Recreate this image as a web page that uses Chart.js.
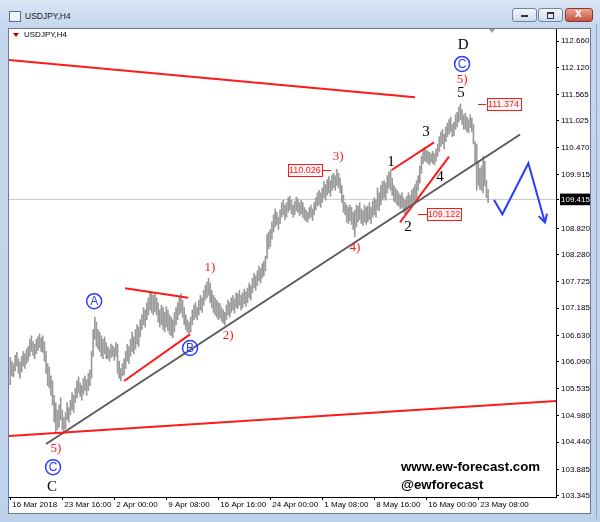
<!DOCTYPE html>
<html>
<head>
<meta charset="utf-8">
<script src="https://cdn.jsdelivr.net/npm/chart.js@4.4.1/dist/chart.umd.min.js"></script>
<style>
  body { margin:0; width:600px; height:522px; overflow:hidden; position:relative;
    background: linear-gradient(#d9e5f4, #c5d7ee 28px, #bfd2eb);
    font-family: 'Liberation Sans', Arial, sans-serif; }
  #title { position:absolute; left:25px; top:11px; font-size:8.5px; color:#1a1a1a; }
  #icon { position:absolute; left:9px; top:11px; width:10px; height:9px; border:1px solid #5a6f8f; background:#eef3fa; }
  .btn { position:absolute; top:8px; height:12px; border:1px solid #6f83a6; border-radius:3px;
    background: linear-gradient(#f3f7fc, #cfdcee); }
  #bmin { left:512px; width:23px; }
  #bmax { left:538px; width:23px; }
  #bclose { left:565px; width:26px; border-color:#8a3a2c; background: linear-gradient(#e9a597, #c4533e); }
  #bmin::after { content:''; position:absolute; left:8px; top:6px; width:7px; height:2px; background:#333; }
  #bmax::after { content:''; position:absolute; left:8px; top:3px; width:5px; height:4px; border:1px solid #333; border-top-width:2px; }
  #bclose::after { content:'x'; position:absolute; left:9px; top:-3px; color:#fff; font:bold 12px 'Liberation Sans'; }
  #frame { position:absolute; left:8px; top:28px; width:581px; height:484px; border:1px solid #6c7a90; background:#fff; }
  #edge { position:absolute; left:596px; top:24px; width:1px; height:495px; background:#8ea6c8; }
  #shift { position:absolute; left:489px; top:29px; width:0; height:0;
    border-left:3px solid transparent; border-right:3px solid transparent; border-top:4px solid #a0a0a0; }
</style>
</head>
<body>
<div id="icon"></div>
<div id="title">USDJPY,H4</div>
<div class="btn" id="bmin"></div>
<div class="btn" id="bmax"></div>
<div class="btn" id="bclose"></div>
<div id="edge"></div>
<div id="frame"><canvas id="chart" width="581" height="484"></canvas></div>
<div id="shift"></div>
<script>
// H4 bars, index 0 = 16 Mar 2018 08:00
const highs = [
  106.18, 106.10, 106.05, 106.22, 106.28, 106.15, 106.08, 106.20, 106.30, 106.25,
  106.35, 106.40, 106.55, 106.62, 106.50, 106.45, 106.55, 106.60, 106.66, 106.58,
  106.62, 106.50, 106.30, 106.05, 105.98, 105.80, 105.70, 105.40, 105.25, 105.10,
  105.20, 105.35, 105.10, 104.95, 105.05, 105.25, 105.15, 105.30, 105.45, 105.40,
  105.55, 105.70, 105.78, 105.65, 105.60, 105.75, 105.80, 105.72, 105.85, 105.92,
  106.30, 106.75, 107.00, 106.90, 106.75, 106.70, 106.62, 106.55, 106.60, 106.48,
  106.40, 106.35, 106.45, 106.42, 106.38, 106.48, 106.45, 106.10, 105.95, 106.05,
  106.15, 106.30, 106.45, 106.40, 106.55, 106.70, 106.60, 106.75, 106.85, 106.80,
  106.95, 107.05, 107.20, 107.15, 107.30, 107.40, 107.52, 107.50, 107.45, 107.48,
  107.40, 107.30, 107.15, 107.25, 107.20, 107.10, 107.22, 107.15, 107.05, 107.00,
  106.95, 107.10, 107.20, 107.30, 107.42, 107.48, 107.35, 107.20, 107.05, 106.95,
  106.90, 107.00, 107.15, 107.25, 107.30, 107.20, 107.35, 107.45, 107.40, 107.55,
  107.65, 107.72, 107.80, 107.70, 107.55, 107.45, 107.40, 107.35, 107.30, 107.28,
  107.20, 107.15, 107.10, 107.25, 107.35, 107.30, 107.40, 107.45, 107.38, 107.50,
  107.48, 107.55, 107.45, 107.50, 107.58, 107.52, 107.60, 107.70, 107.65, 107.80,
  107.90, 107.85, 107.95, 108.05, 108.00, 108.10, 108.15, 108.25, 108.70, 108.75,
  108.80, 108.95, 109.10, 109.22, 109.15, 109.05, 109.20, 109.35, 109.40, 109.30,
  109.35, 109.45, 109.48, 109.40, 109.30, 109.38, 109.46, 109.42, 109.35, 109.40,
  109.35, 109.25, 109.20, 109.15, 109.25, 109.30, 109.22, 109.35, 109.45, 109.55,
  109.60, 109.55, 109.65, 109.78, 109.72, 109.82, 109.88, 109.80, 109.92, 109.95,
  109.90, 110.03, 109.95, 109.85, 109.70, 109.50, 109.35, 109.30, 109.25, 109.30,
  109.25, 109.15, 109.20, 109.30, 109.28, 109.35, 109.22, 109.18, 109.30, 109.25,
  109.28, 109.35, 109.25, 109.38, 109.45, 109.40, 109.65, 109.55, 109.70, 109.78,
  109.80, 109.75, 109.90, 109.98, 110.02, 109.85, 109.70, 109.65, 109.60, 109.55,
  109.50, 109.55, 109.45, 109.40, 109.48, 109.55, 109.50, 109.60, 109.65, 109.72,
  109.80, 109.90, 110.10, 110.30, 110.45, 110.48, 110.42, 110.40, 110.38, 110.35,
  110.40, 110.35, 110.45, 110.55, 110.70, 110.80, 110.85, 110.75, 110.90, 110.98,
  111.05, 111.10, 110.95, 111.00, 111.15, 111.20, 111.30, 111.37, 111.25, 111.15,
  111.18, 111.10, 111.05, 111.15, 111.08, 110.95, 110.60, 110.55, 110.20, 110.05,
  110.10, 110.30, 110.20, 109.80, 109.62
];
const lows = [
  105.62, 105.80, 105.78, 105.90, 106.00, 105.85, 105.75, 105.88, 106.00, 105.95,
  106.05, 106.10, 106.20, 106.30, 106.22, 106.15, 106.25, 106.32, 106.38, 106.30,
  106.28, 106.10, 105.85, 105.60, 105.55, 105.40, 105.20, 104.85, 104.63, 104.70,
  104.75, 104.90, 104.70, 104.62, 104.72, 104.90, 104.85, 105.00, 105.10, 105.05,
  105.25, 105.35, 105.45, 105.38, 105.30, 105.42, 105.50, 105.40, 105.50, 105.60,
  105.75, 106.20, 106.55, 106.40, 106.35, 106.30, 106.20, 106.15, 106.25, 106.15,
  106.15, 106.10, 106.18, 106.20, 106.12, 106.20, 105.85, 105.75, 105.70, 105.80,
  105.82, 105.95, 106.10, 106.05, 106.20, 106.30, 106.25, 106.35, 106.45, 106.40,
  106.60, 106.75, 106.85, 106.80, 106.95, 107.05, 107.15, 107.10, 107.05, 107.12,
  107.05, 106.90, 106.80, 106.85, 106.75, 106.70, 106.80, 106.72, 106.65, 106.62,
  106.58, 106.70, 106.85, 106.95, 107.05, 107.10, 107.00, 106.85, 106.75, 106.70,
  106.66, 106.70, 106.85, 106.95, 107.00, 106.95, 107.05, 107.15, 107.10, 107.25,
  107.35, 107.40, 107.45, 107.30, 107.20, 107.10, 107.05, 107.00, 106.95, 106.98,
  106.92, 106.88, 106.84, 106.95, 107.05, 107.00, 107.10, 107.15, 107.08, 107.20,
  107.18, 107.25, 107.15, 107.20, 107.28, 107.22, 107.30, 107.40, 107.35, 107.50,
  107.60, 107.55, 107.65, 107.75, 107.70, 107.80, 107.85, 107.95, 108.20, 108.40,
  108.45, 108.60, 108.75, 108.85, 108.90, 108.80, 108.92, 109.05, 109.10, 109.00,
  109.05, 109.15, 109.20, 109.12, 109.05, 109.10, 109.18, 109.15, 109.08, 109.12,
  109.05, 109.00, 108.97, 108.95, 109.02, 109.05, 108.98, 109.10, 109.20, 109.28,
  109.30, 109.25, 109.35, 109.45, 109.40, 109.50, 109.55, 109.48, 109.60, 109.65,
  109.60, 109.70, 109.65, 109.55, 109.35, 109.15, 109.10, 108.95, 108.92, 108.98,
  108.90, 108.80, 108.65, 108.85, 108.95, 109.00, 108.92, 108.88, 108.95, 108.90,
  108.95, 109.00, 108.92, 109.05, 109.10, 109.05, 109.20, 109.18, 109.30, 109.40,
  109.45, 109.40, 109.55, 109.65, 109.60, 109.50, 109.38, 109.35, 109.30, 109.28,
  109.22, 109.25, 109.15, 109.12, 109.18, 109.25, 109.22, 109.30, 109.35, 109.40,
  109.45, 109.60, 109.75, 109.95, 110.15, 110.20, 110.18, 110.15, 110.12, 110.18,
  110.15, 110.12, 110.20, 110.30, 110.40, 110.50, 110.55, 110.45, 110.60, 110.70,
  110.75, 110.80, 110.70, 110.72, 110.85, 110.90, 111.00, 111.05, 110.95, 110.85,
  110.85, 110.80, 110.78, 110.88, 110.80, 110.55, 110.15, 109.60, 109.70, 109.62,
  109.60, 109.55, 109.70, 109.45, 109.35
];
const lastPrice = 109.415;

const xTickBars = [0, 32, 64, 96, 128, 160, 192, 224, 256, 288];
const xTickLabels = ['16 Mar 2018', '23 Mar 16:00', '2 Apr 00:00', '9 Apr 08:00', '16 Apr 16:00',
  '24 Apr 00:00', '1 May 08:00', '8 May 16:00', '16 May 00:00', '23 May 08:00'];
const yTickValues = [112.660, 112.120, 111.565, 111.025, 110.470, 109.915, 109.415, 108.820, 108.280,
  107.725, 107.185, 106.630, 106.090, 105.535, 104.980, 104.440, 103.885, 103.345];

// drawn lines, [bar index, price]
const channelTop = [[-0.8, 112.27], [249, 111.51]];
const channelBottom = [[-0.8, 104.57], [335.8, 105.285]];
const trendLine = [[22.0, 104.404], [313.7, 110.745]];
const lineAB = [[70.0, 105.695], [110.6, 106.65]];
const lineTopA = [[70.6, 107.594], [109.5, 107.401]];
const line13 = [[234.7, 110.017], [260.7, 110.585]];
const line24 = [[239.8, 108.946], [270.0, 110.29]];
const forecast = [[297.7, 109.403], [302.8, 109.11], [318.8, 110.155], [329.0, 108.94]];

// price tags: value, tag centre bar, leader line from/to bar
const tagValues = [110.026, 109.122, 111.374];
const tagCentres = [181.3, 266.9, 303.5];
const tagLines = [[191.8, 197.4], [250.9, 256.4], [287.8, 292.7]];

// wave labels
const blackLabels = [['D', 278.6, 112.58], ['5', 277.4, 111.59], ['1', 234.3, 110.18], ['2', 244.7, 108.85],
  ['3', 255.8, 110.80], ['4', 264.4, 109.87], ['C', 25.7, 103.52]];
const redLabels = [['5)', 278.0, 111.86], ['3)', 201.7, 110.284], ['1)', 122.9, 108.01], ['2)', 134.0, 106.62],
  ['4)', 212.1, 108.42], ['5)', 28.1, 104.30]];
const circleLabels = [['C', 278.0, 112.19], ['A', 51.6, 107.33], ['B', 110.6, 106.37], ['C', 26.3, 103.93]];

const RED = '#ff1a1a';
const BLUE = '#2a3cff';

const bars = highs.map((h, i) => ({ x: i, y: [lows[i], h] }));
const pts = arr => arr.map(p => ({ x: p[0], y: p[1] }));

function lineSet(arr, color, width, order) {
    return { type: 'line', data: pts(arr), borderColor: color, borderWidth: width,
        pointRadius: 0, tension: 0, fill: false, order: order };
}

// labels, tags and arrow head
const overlay = {
    id: 'overlay',
    afterDatasetsDraw(chart) {
        const { ctx, scales: { x, y } } = chart;
        ctx.save();

        // chart caption
        ctx.fillStyle = '#b00000';
        ctx.beginPath();
        ctx.moveTo(4, 4); ctx.lineTo(10, 4); ctx.lineTo(7, 8); ctx.closePath(); ctx.fill();
        ctx.fillStyle = '#000';
        ctx.font = '8px "Liberation Sans"';
        ctx.textBaseline = 'middle';
        ctx.fillText('USDJPY,H4', 15, 6);

        // price tags
        tagValues.forEach((v, k) => {
            const py = Math.round(y.getPixelForValue(v)) + 0.5;
            ctx.strokeStyle = RED;
            ctx.lineWidth = 1;
            ctx.beginPath();
            ctx.moveTo(x.getPixelForValue(tagLines[k][0]), py);
            ctx.lineTo(x.getPixelForValue(tagLines[k][1]), py);
            ctx.stroke();
            const cx = x.getPixelForValue(tagCentres[k]);
            ctx.fillStyle = '#fff4f4';
            ctx.fillRect(Math.round(cx - 17) + 0.5, py - 6, 34, 12);
            ctx.strokeRect(Math.round(cx - 17) + 0.5, py - 6, 34, 12);
            ctx.fillStyle = RED;
            ctx.font = '9px "Liberation Sans"';
            ctx.textAlign = 'center';
            ctx.fillText(v.toFixed(3), cx, py + 0.5);
        });

        // forecast arrow head
        const n = forecast.length;
        const ex = x.getPixelForValue(forecast[n - 1][0]), ey = y.getPixelForValue(forecast[n - 1][1]);
        const bx = x.getPixelForValue(forecast[n - 2][0]), by = y.getPixelForValue(forecast[n - 2][1]);
        const ang = Math.atan2(ey - by, ex - bx);
        ctx.strokeStyle = BLUE;
        ctx.lineWidth = 2;
        ctx.beginPath();
        ctx.moveTo(ex - 9 * Math.cos(ang - 0.5), ey - 9 * Math.sin(ang - 0.5));
        ctx.lineTo(ex, ey);
        ctx.lineTo(ex - 9 * Math.cos(ang + 0.5), ey - 9 * Math.sin(ang + 0.5));
        ctx.stroke();

        // wave labels
        ctx.textAlign = 'center';
        ctx.textBaseline = 'middle';
        ctx.fillStyle = '#000';
        ctx.font = '15px "Liberation Serif"';
        blackLabels.forEach(l => ctx.fillText(l[0], x.getPixelForValue(l[1]), y.getPixelForValue(l[2])));
        ctx.fillStyle = RED;
        ctx.font = '13px "Liberation Serif"';
        redLabels.forEach(l => ctx.fillText(l[0], x.getPixelForValue(l[1]), y.getPixelForValue(l[2])));
        ctx.strokeStyle = BLUE;
        ctx.fillStyle = BLUE;
        ctx.lineWidth = 1.5;
        ctx.font = '12px "Liberation Sans"';
        circleLabels.forEach(l => {
            const cx = x.getPixelForValue(l[1]), cy = y.getPixelForValue(l[2]);
            ctx.beginPath();
            ctx.arc(cx, cy, 7.5, 0, Math.PI * 2);
            ctx.stroke();
            ctx.fillText(l[0], cx, cy + 0.5);
        });

        // site watermark
        ctx.fillStyle = '#000';
        ctx.textAlign = 'left';
        ctx.font = 'bold 13.3px "Liberation Sans"';
        ctx.fillText('www.ew-forecast.com', 392, 438);
        ctx.fillText('@ewforecast', 392, 456);
        ctx.restore();
    }
};

new Chart(document.getElementById('chart'), {
    type: 'bar',
    data: {
        datasets: [
            lineSet([[-0.8, lastPrice], [335.8, lastPrice]], '#c8c8c8', 1, 10),
            { type: 'bar', data: bars, backgroundColor: '#9a9a9a', barThickness: 1, grouped: false, order: 5 },
            lineSet(channelTop, RED, 2, 1),
            lineSet(channelBottom, RED, 2, 1),
            lineSet(trendLine, '#5a5a5a', 2, 1),
            lineSet(lineAB, RED, 2, 1),
            lineSet(lineTopA, RED, 2, 1),
            lineSet(line13, RED, 2, 1),
            lineSet(line24, RED, 2, 1),
            lineSet(forecast, BLUE, 2, 1)
        ]
    },
    options: {
        responsive: false,
        animation: false,
        events: [],
        layout: { padding: 0 },
        plugins: { legend: { display: false }, tooltip: { enabled: false } },
        scales: {
            x: {
                type: 'linear', min: -0.8, max: 335.8, offset: false,
                afterBuildTicks: s => { s.ticks = xTickBars.map(v => ({ value: v })); },
                afterFit: s => { s.height = 16; s.paddingLeft = 0; s.paddingRight = 0; },
                grid: { drawOnChartArea: false, offset: false, tickLength: 3, color: '#000' },
                border: { color: '#000' },
                ticks: {
                    autoSkip: false, maxRotation: 0, minRotation: 0, align: 'start', labelOffset: 2, padding: 0,
                    color: '#000', font: { family: 'Liberation Sans', size: 8 },
                    callback: (v) => xTickLabels[xTickBars.indexOf(v)]
                }
            },
            y: {
                position: 'right', min: 103.318, max: 112.906,
                afterBuildTicks: s => { s.ticks = yTickValues.map(v => ({ value: v })); },
                afterFit: s => { s.width = 34; s.paddingTop = 0; s.paddingBottom = 0; },
                grid: { drawOnChartArea: false, tickLength: 3, color: '#000' },
                border: { color: '#000' },
                ticks: {
                    autoSkip: false, padding: 2,
                    color: c => c.tick.value === lastPrice ? '#fff' : '#000',
                    showLabelBackdrop: c => c.tick.value === lastPrice,
                    backdropColor: '#000', backdropPadding: 1,
                    font: { family: 'Liberation Sans', size: 8 },
                    callback: v => v.toFixed(3)
                }
            }
        }
    },
    plugins: [overlay]
});
</script>
</body>
</html>
